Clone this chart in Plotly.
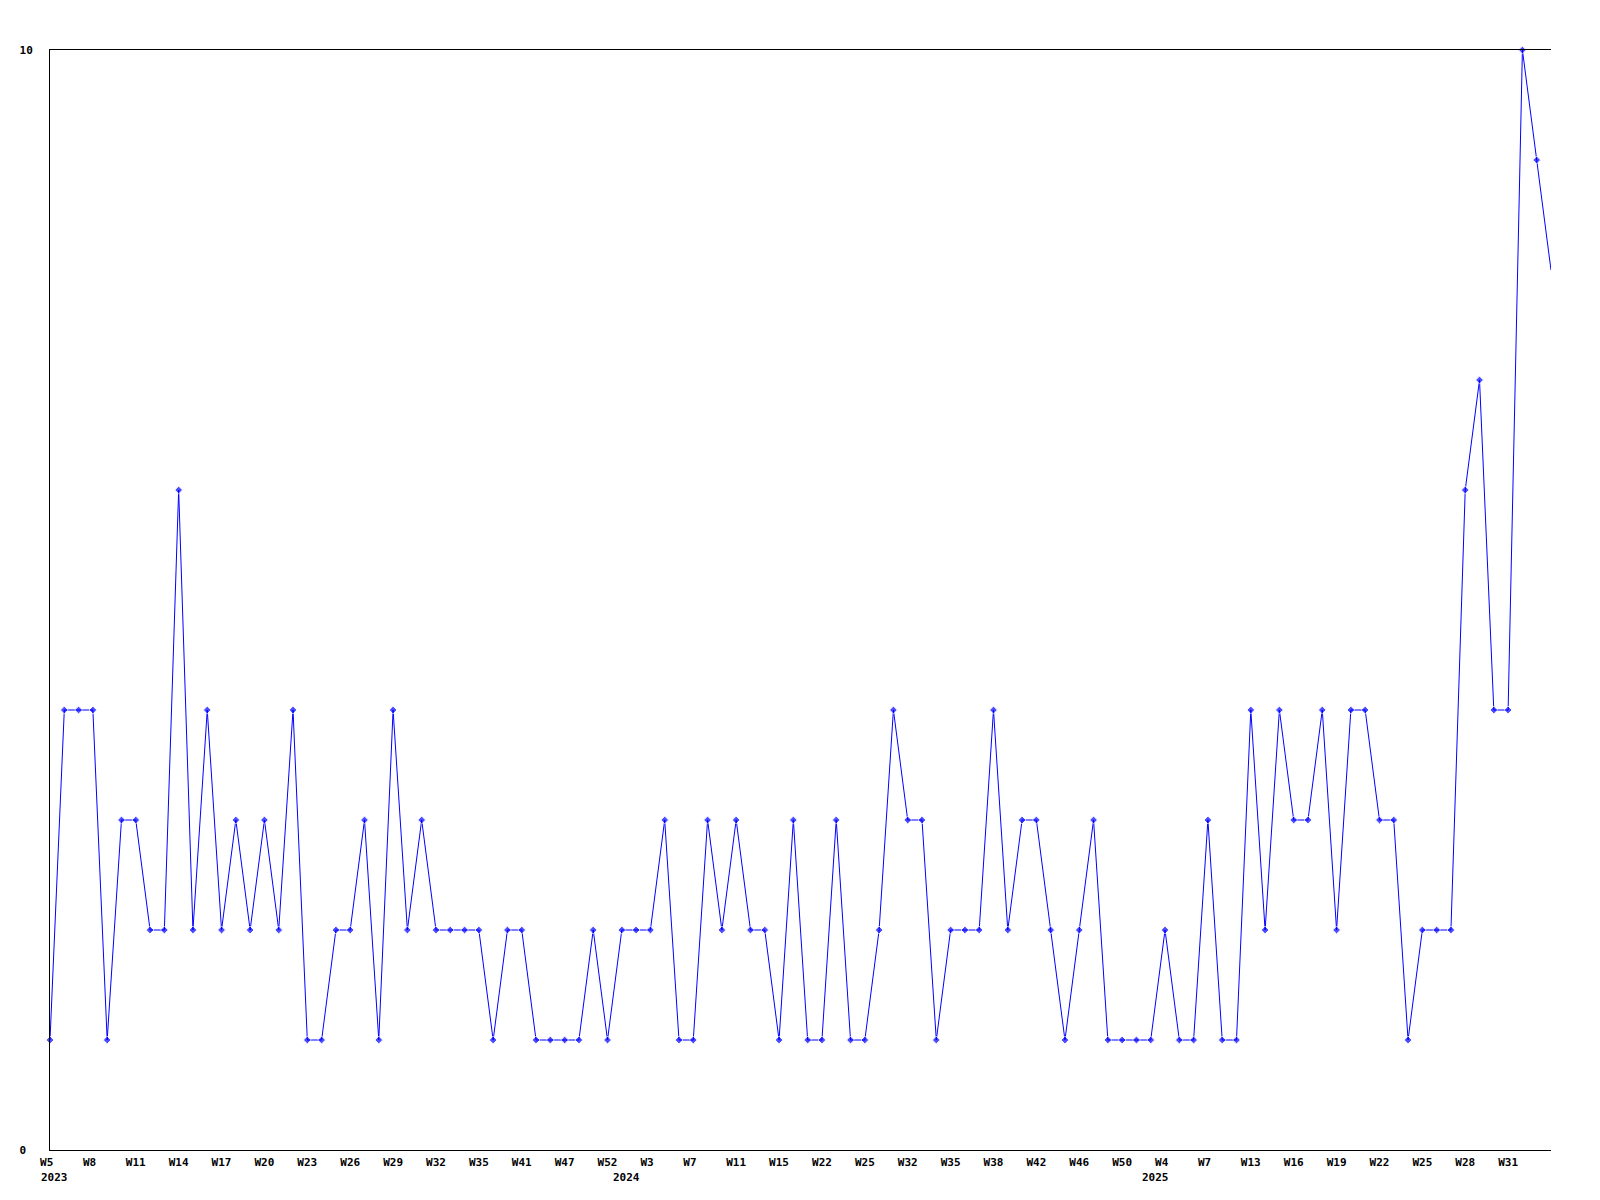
import plotly.graph_objects as go

# ---- data ----
years = [2023] * 40 + [2024] * 37 + [2025] * 29
weeks = (list(range(5, 36)) + [37, 39, 41, 43, 45, 47, 49, 50, 52]
         + [1, 2, 3, 4, 6, 7, 8, 10, 11, 12, 14, 15, 17, 20, 22, 23, 24, 25, 27, 30,
            32, 33, 34, 35, 36, 37, 38, 39, 40, 42, 43, 45, 46, 48, 49, 50, 52]
         + [2, 4, 5, 6, 7, 9, 11] + list(range(13, 35)))
values = [1, 4, 4, 4, 1, 3, 3, 2, 2, 6,
          2, 4, 2, 3, 2, 3, 2, 4, 1, 1,
          2, 2, 3, 1, 4, 2, 3, 2, 2, 2,
          2, 1, 2, 2, 1, 1, 1, 1, 2, 1,
          2, 2, 2, 3, 1, 1, 3, 2, 3, 2,
          2, 1, 3, 1, 1, 3, 1, 1, 2, 4,
          3, 3, 1, 2, 2, 2, 4, 2, 3, 3,
          2, 1, 2, 3, 1, 1, 1, 1, 2, 1,
          1, 3, 1, 1, 4, 2, 4, 3, 3, 4,
          2, 4, 4, 3, 3, 1, 2, 2, 2, 6,
          7, 4, 4, 10, 9, 8]
y_ticks = [0, 10]
y_ticktext = ["0\u00a0", "10"]

labels = [f"W{w}" for w in weeks]
idx = list(range(len(values)))

tick_idx = idx[:-1:3]
tick_text = [labels[i].ljust(3, "\u00a0") for i in tick_idx]

FONT = dict(family="DejaVu Sans Mono", size=11, color="black", weight="bold")

marker_sizes = [6] * (len(values) - 1) + [0]

fig = go.Figure()
fig.add_trace(go.Scatter(
    x=idx, y=values, mode="lines+markers",
    line=dict(color="#0000ff", width=1),
    marker=dict(symbol="diamond", size=marker_sizes, color="#0000ff"),
    cliponaxis=False, hoverinfo="skip",
))

# year labels at first point of each year
for i, yr in enumerate(years):
    if i == 0 or years[i - 1] != yr:
        fig.add_annotation(x=i, y=0, xref="x", yref="paper", text=str(yr),
                           showarrow=False, xanchor="left", yanchor="middle",
                           xshift=-11, yshift=-27, font=FONT)

fig.update_layout(
    width=1600, height=1200,
    margin=dict(l=42, r=57, t=42, b=58),
    paper_bgcolor="white", plot_bgcolor="white",
    showlegend=False,
    font=FONT,
)
fig.update_xaxes(range=[0, len(values) - 1], tickmode="array", tickvals=tick_idx,
                 ticktext=tick_text, showgrid=False, zeroline=False,
                 showline=True, linecolor="black", linewidth=1, mirror=True,
                 ticks="", tickfont=FONT, tickangle=0, automargin=False,
                 ticklabelstandoff=2)
fig.update_yaxes(range=[0, 10], tickmode="array", tickvals=y_ticks,
                 ticktext=y_ticktext, showgrid=False, zeroline=False,
                 showline=True, linecolor="black", linewidth=1,
                 ticks="", tickfont=FONT, ticklabelstandoff=14, automargin=False)

fig.write_html("out.html")
